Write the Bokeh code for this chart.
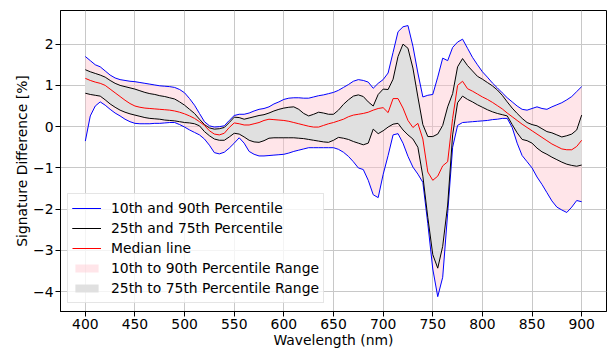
from bokeh.plotting import figure
from bokeh.models import Legend, LegendItem, FixedTicker, Range1d
from bokeh.embed import file_html
from bokeh.resources import INLINE

wavelength = list(range(400, 901, 5))

p90 = [1.70, 1.60, 1.50, 1.45, 1.35, 1.25, 1.18, 1.14, 1.12, 1.10,
       1.09, 1.07, 1.05, 1.03, 1.01, 0.99, 0.98, 0.97, 0.95, 0.90,
       0.82, 0.68, 0.52, 0.32, 0.12, 0.02, -0.01, 0.00, 0.02, 0.15,
       0.27, 0.30, 0.30, 0.33, 0.38, 0.42, 0.44, 0.48, 0.55, 0.60,
       0.66, 0.69, 0.70, 0.70, 0.69, 0.69, 0.72, 0.75, 0.77, 0.80,
       0.83, 0.88, 0.95, 1.02, 1.10, 1.14, 1.12, 1.08, 0.93, 1.05,
       1.14, 1.30, 1.80, 2.30, 2.42, 2.45, 1.95, 1.30, 0.72, 0.76,
       0.78, 1.20, 1.66, 1.60, 1.92, 2.05, 2.12, 1.90, 1.68, 1.50,
       1.33, 1.20, 1.06, 0.94, 0.82, 0.70, 0.60, 0.50, 0.42, 0.40,
       0.44, 0.48, 0.44, 0.42, 0.48, 0.53, 0.58, 0.65, 0.73, 0.85,
       0.97]

p75 = [1.38, 1.33, 1.29, 1.25, 1.20, 1.12, 1.05, 1.00, 0.97, 0.94,
       0.91, 0.87, 0.83, 0.80, 0.78, 0.75, 0.73, 0.70, 0.67, 0.60,
       0.52, 0.42, 0.32, 0.18, 0.05, -0.03, -0.06, -0.05, -0.02, 0.10,
       0.23, 0.22, 0.18, 0.21, 0.24, 0.27, 0.29, 0.33, 0.38, 0.42,
       0.45, 0.47, 0.48, 0.42, 0.32, 0.26, 0.30, 0.35, 0.33, 0.30,
       0.30, 0.40, 0.54, 0.65, 0.74, 0.77, 0.73, 0.60, 0.50, 0.78,
       0.91, 0.90, 1.15, 1.70, 2.00, 1.90, 1.42, 0.72, 0.05, -0.24,
       -0.24, -0.18, 0.03, 0.48, 0.80, 1.45, 1.65, 1.48, 1.35, 1.22,
       1.15, 1.07, 0.99, 0.89, 0.76, 0.60, 0.45, 0.32, 0.20, 0.10,
       0.05, 0.02, -0.05, -0.12, -0.15, -0.20, -0.25, -0.22, -0.18, -0.08,
       0.28]

median = [1.17, 1.12, 1.08, 1.05, 1.00, 0.91, 0.82, 0.73, 0.64, 0.56,
          0.50, 0.47, 0.45, 0.44, 0.43, 0.42, 0.41, 0.40, 0.38, 0.35,
          0.31, 0.26, 0.20, 0.12, 0.03, -0.10, -0.18, -0.20, -0.16, -0.02,
          0.09, 0.07, 0.04, 0.04, 0.07, 0.10, 0.15, 0.18, 0.17, 0.16,
          0.15, 0.13, 0.10, 0.07, 0.04, 0.01, -0.01, -0.01, 0.03, 0.07,
          0.10, 0.14, 0.18, 0.24, 0.28, 0.30, 0.32, 0.35, 0.40, 0.44,
          0.46, 0.34, 0.68, 0.68, 0.45, 0.15, -0.02, 0.08, -0.30, -1.10,
          -1.30, -1.20, -0.95, -0.85, 0.20, 1.00, 1.10, 0.92, 0.86, 0.79,
          0.72, 0.66, 0.59, 0.51, 0.43, 0.33, 0.24, 0.15, 0.06, -0.02,
          -0.10, -0.18, -0.26, -0.34, -0.42, -0.48, -0.54, -0.56, -0.56, -0.48,
          -0.33]

p25 = [0.81, 0.78, 0.76, 0.74, 0.65, 0.55, 0.47, 0.40, 0.35, 0.31,
       0.28, 0.25, 0.22, 0.20, 0.19, 0.18, 0.16, 0.15, 0.14, 0.12,
       0.10, 0.09, 0.07, 0.02, -0.12, -0.22, -0.30, -0.33, -0.33, -0.25,
       -0.16, -0.18, -0.25, -0.33, -0.37, -0.38, -0.34, -0.28, -0.27, -0.27,
       -0.27, -0.27, -0.27, -0.28, -0.29, -0.31, -0.33, -0.35, -0.37, -0.38,
       -0.33, -0.26, -0.28, -0.31, -0.36, -0.40, -0.44, -0.40, -0.06, -0.17,
       -0.10, -0.01, 0.06, 0.08, -0.08, -0.20, -0.30, -0.50, -1.20, -2.20,
       -3.10, -3.43, -2.90, -1.90, -0.20, 0.58, 0.74, 0.66, 0.60, 0.53,
       0.47, 0.41, 0.36, 0.32, 0.29, 0.26, 0.05, -0.15, -0.31, -0.34,
       -0.40, -0.52, -0.61, -0.67, -0.74, -0.80, -0.86, -0.91, -0.94, -0.96,
       -0.93]

p10 = [-0.35, 0.26, 0.50, 0.60, 0.52, 0.42, 0.33, 0.26, 0.18, 0.12,
       0.08, 0.07, 0.07, 0.07, 0.08, 0.08, 0.09, 0.10, 0.10, 0.05,
       -0.01, -0.08, -0.14, -0.20, -0.30, -0.45, -0.63, -0.66, -0.62, -0.52,
       -0.40, -0.27, -0.40, -0.60, -0.67, -0.71, -0.71, -0.70, -0.69, -0.68,
       -0.67, -0.64, -0.60, -0.57, -0.54, -0.51, -0.51, -0.51, -0.51, -0.51,
       -0.51, -0.55, -0.62, -0.72, -0.85, -1.00, -1.04, -1.30, -1.65, -1.72,
       -1.16, -0.70, -0.20, -0.17, -0.40, -0.72, -0.98, -1.15, -1.35, -2.35,
       -3.45, -4.12, -3.65, -2.10, -0.50, 0.03, 0.10, 0.11, 0.12, 0.13,
       0.14, 0.15, 0.17, 0.18, 0.20, 0.20, -0.02, -0.40, -0.70, -0.85,
       -1.00, -1.22, -1.40, -1.60, -1.80, -1.95, -2.02, -2.08, -1.95, -1.79,
       -1.82]

x_ticks = [400, 450, 500, 550, 600, 650, 700, 750, 800, 850, 900]
y_ticks = [-4, -3, -2, -1, 0, 1, 2]
y_tick_labels = {-4: "\u22124", -3: "\u22123", -2: "\u22122", -1: "\u22121", 0: "0", 1: "1", 2: "2"}

FONT = "DejaVu Sans"
FS = "13.9px"

p = figure(width=608, height=350, output_backend="svg", toolbar_location=None,
           x_range=Range1d(375, 925), y_range=Range1d(-4.48, 2.815),
           min_border_left=60, min_border_right=2, min_border_top=10, min_border_bottom=39)

p.background_fill_color = "white"
p.border_fill_color = "white"
p.outline_line_color = "black"
p.outline_line_width = 1

pink_r = p.varea(x=wavelength, y1=p10, y2=p90, fill_color="pink", fill_alpha=0.42)
grey_r = p.varea(x=wavelength, y1=p25, y2=p75, fill_color="#e0e0e0", fill_alpha=1.0)

b1 = p.line(wavelength, p90, line_color="blue", line_width=1)
b2 = p.line(wavelength, p10, line_color="blue", line_width=1)
k1 = p.line(wavelength, p75, line_color="black", line_width=1)
k2 = p.line(wavelength, p25, line_color="black", line_width=1)
r1 = p.line(wavelength, median, line_color="red", line_width=1)

p.xaxis.ticker = FixedTicker(ticks=x_ticks)
p.yaxis.ticker = FixedTicker(ticks=y_ticks)
p.yaxis.major_label_overrides = y_tick_labels

for ax in (p.xaxis[0], p.yaxis[0]):
    ax.major_tick_out = 5
    ax.major_tick_in = 0
    ax.minor_tick_out = 0
    ax.minor_tick_in = 0
    ax.major_tick_line_color = "black"
    ax.axis_line_color = "black"
    ax.major_label_text_font = FONT
    ax.major_label_text_font_size = FS
    ax.major_label_text_color = "black"
    ax.axis_label_text_font = FONT
    ax.axis_label_text_font_size = FS
    ax.axis_label_text_font_style = "normal"
    ax.axis_label_text_color = "black"
    ax.major_label_standoff = 2
    ax.axis_label_standoff = 0

p.xaxis.axis_label = "Wavelength (nm)"
p.yaxis.axis_label = "Signature Difference [%]"
p.yaxis.axis_label_standoff = 0

p.grid.grid_line_color = "#c8c8c8"
p.grid.grid_line_width = 1

legend = Legend(items=[
    LegendItem(label="10th and 90th Percentile", renderers=[b1, b2]),
    LegendItem(label="25th and 75th Percentile", renderers=[k1, k2]),
    LegendItem(label="Median line", renderers=[r1]),
    LegendItem(label="10th to 90th Percentile Range", renderers=[pink_r]),
    LegendItem(label="25th to 75th Percentile Range", renderers=[grey_r]),
], location=(7, 8))
legend.label_text_font = FONT
legend.label_text_font_size = FS
legend.label_text_color = "black"
legend.glyph_width = 29
legend.glyph_height = 10
legend.label_height = 20
legend.label_standoff = 10
legend.spacing = 0
legend.padding = 4
legend.margin = 0
legend.border_line_color = "#cccccc"
legend.border_line_width = 1
legend.background_fill_alpha = 0.8
p.add_layout(legend)

open("out.html", "w").write(file_html(p, INLINE))
